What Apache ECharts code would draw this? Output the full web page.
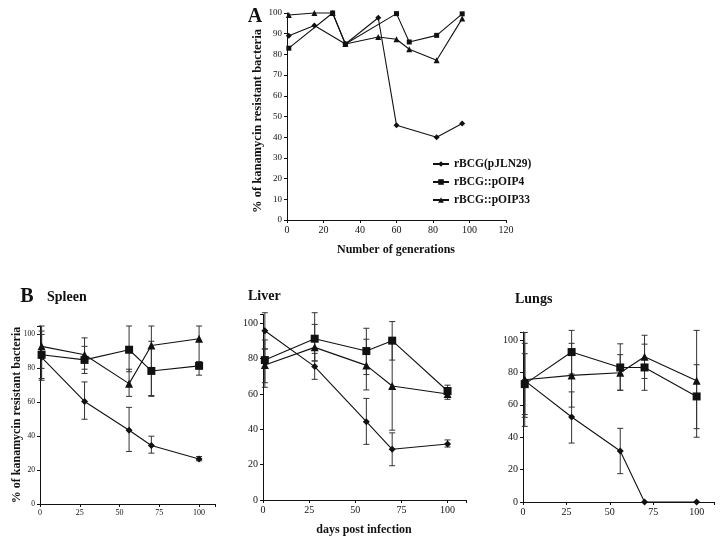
<!DOCTYPE html>
<html><head><meta charset="utf-8">
<script src="https://cdn.jsdelivr.net/npm/echarts@6/dist/echarts.min.js"></script>
<style>html,body{margin:0;padding:0;background:#fff}#c{width:722px;height:544px}</style>
</head><body><div id="c"></div>
<script>
// ---------- data ----------
const seriesNames = ['rBCG(pJLN29)', 'rBCG::pOIP4', 'rBCG::pOIP33'];
// Panel A: % kanamycin resistant vs number of generations
const genJLN29 = [1, 15, 32, 50, 60, 82, 96];
const pctJLN29 = [89, 94, 85, 97.7, 45.8, 40, 46.6];
const genOIP4 = [1, 25, 32, 60, 67, 82, 96];
const pctOIP4 = [83, 100, 85, 99.7, 86, 89.2, 99.6];
const genOIP33 = [1, 15, 25, 32, 50, 60, 67, 82, 96];
const pctOIP33 = [99, 100, 100, 85, 88.4, 87.3, 82.5, 77.2, 97.3];
const ticksAX = [0, 20, 40, 60, 80, 100, 120];
const ticksAY = [0, 10, 20, 30, 40, 50, 60, 70, 80, 90, 100];

// Panel B: days post infection
const days = [1, 28, 56, 70, 100];
const ticksBX = [0, 25, 50, 75, 100];
const ticksBY = [0, 20, 40, 60, 80, 100];

const spleenJLN29 = [86.5, 60.5, 43.5, 34.5, 26.5];
const spleenJLN29Lo = [73, 50, 31, 30, 25.5];
const spleenJLN29Hi = [100, 72, 57, 40, 28];
const spleenOIP4 = [88, 85, 91, 78.5, 81.5];
const spleenOIP4Lo = [74, 77, 78, 64, 76];
const spleenOIP4Hi = [102, 93, 105, 96, 84];
const spleenOIP33 = [93, 88, 71, 93.5, 97.5];
const spleenOIP33Lo = [80, 79.5, 63.5, 63.5, 82];
const spleenOIP33Hi = [105, 98, 79.5, 105, 105];

const liverJLN29 = [95.8, 75.5, 44.3, 28.7, 31.7];
const liverJLN29Lo = [85.5, 68.3, 31.5, 19.4, 30];
const liverJLN29Hi = [106, 83, 57.5, 38, 34];
const liverOIP4 = [79.2, 91.3, 84.3, 90.2, 61.7];
const liverOIP4Lo = [63.8, 78.7, 71, 79.2, 58];
const liverOIP4Hi = [90.6, 106, 97.2, 101, 65];
const liverOIP33 = [76.4, 86.4, 76.2, 64.5, 60];
const liverOIP33Lo = [66.4, 78.7, 62.3, 39.5, 57];
const liverOIP33Hi = [85.5, 99.4, 91, 89, 63];

const lungsJLN29 = [75, 52.5, 31.5, 0, 0];
const lungsJLN29Lo = [52.3, 36.4, 17.5, null, null];
const lungsJLN29Hi = [98, 68, 45.5, null, null];
const lungsOIP4 = [72.8, 92.6, 83.1, 83.1, 65.2];
const lungsOIP4Lo = [46.7, 79, 69, 69, 40];
const lungsOIP4Hi = [104.7, 106, 97.7, 97.5, 84.8];
const lungsOIP33 = [75.5, 78.2, 79.8, 89.7, 74.9];
const lungsOIP33Lo = [54, 58.6, 69, 76.3, 45.3];
const lungsOIP33Hi = [91.6, 98, 91, 103, 106];

// ---------- helpers ----------
const FONT = "'Liberation Serif', 'Times New Roman', serif";
const INK = '#111';
const symbols = ['diamond', 'rect', 'triangle'];

function pairs(xs, ys) { return xs.map((x, i) => [x, ys[i]]); }

function xAxis(gi, max, interval, ticks, fs) {
  return {
    type: 'value', gridIndex: gi, min: 0, max: max, interval: interval,
    axisLine: { lineStyle: { color: INK, width: 1 } },
    axisTick: { show: true, length: 3, lineStyle: { color: INK } },
    axisLabel: { color: INK, fontFamily: FONT, fontSize: fs, margin: 5,
      formatter: v => ticks.indexOf(v) >= 0 ? String(v) : '' },
    splitLine: { show: false }
  };
}
function yAxis(gi, max, interval, ticks, fs) {
  return {
    type: 'value', gridIndex: gi, min: 0, max: max, interval: interval,
    axisLine: { show: true, lineStyle: { color: INK, width: 1 } },
    axisTick: { show: true, length: 3, lineStyle: { color: INK } },
    axisLabel: { color: INK, fontFamily: FONT, fontSize: fs, margin: 5,
      formatter: v => ticks.indexOf(v) >= 0 ? String(v) : '' },
    splitLine: { show: false }
  };
}
function lineSeries(name, gi, data, k, size) {
  return {
    name: name, type: 'line', xAxisIndex: gi, yAxisIndex: gi, data: data,
    symbol: symbols[k], symbolSize: size, showSymbol: true,
    lineStyle: { color: INK, width: 1.1 }, itemStyle: { color: INK },
    animation: false, z: 3, clip: false
  };
}
function errRender(params, api) {
  const x = api.value(0), lo = api.value(1), hi = api.value(2);
  const p1 = api.coord([x, lo]), p2 = api.coord([x, hi]);
  const w = 3;
  const st = { stroke: '#333', lineWidth: 1 };
  return { type: 'group', children: [
    { type: 'line', shape: { x1: p1[0], y1: p1[1], x2: p2[0], y2: p2[1] }, style: st },
    { type: 'line', shape: { x1: p1[0] - w, y1: p1[1], x2: p1[0] + w, y2: p1[1] }, style: st },
    { type: 'line', shape: { x1: p2[0] - w, y1: p2[1], x2: p2[0] + w, y2: p2[1] }, style: st }
  ] };
}
function errSeries(gi, lo, hi) {
  const data = [];
  days.forEach((d, i) => { if (lo[i] != null) data.push([d, lo[i], hi[i]]); });
  return { type: 'custom', xAxisIndex: gi, yAxisIndex: gi, data: data,
    renderItem: errRender, encode: { x: 0, y: [1, 2] }, z: 2, animation: false, silent: true };
}

const panels = [
  { gi: 1, tag: 'spleen', ys: [spleenJLN29, spleenOIP4, spleenOIP33],
    lo: [spleenJLN29Lo, spleenOIP4Lo, spleenOIP33Lo], hi: [spleenJLN29Hi, spleenOIP4Hi, spleenOIP33Hi] },
  { gi: 2, tag: 'liver', ys: [liverJLN29, liverOIP4, liverOIP33],
    lo: [liverJLN29Lo, liverOIP4Lo, liverOIP33Lo], hi: [liverJLN29Hi, liverOIP4Hi, liverOIP33Hi] },
  { gi: 3, tag: 'lungs', ys: [lungsJLN29, lungsOIP4, lungsOIP33],
    lo: [lungsJLN29Lo, lungsOIP4Lo, lungsOIP33Lo], hi: [lungsJLN29Hi, lungsOIP4Hi, lungsOIP33Hi] }
];

const series = [
  lineSeries(seriesNames[0], 0, pairs(genJLN29, pctJLN29), 0, 6),
  lineSeries(seriesNames[1], 0, pairs(genOIP4, pctOIP4), 1, 5),
  lineSeries(seriesNames[2], 0, pairs(genOIP33, pctOIP33), 2, 6)
];
const bSizes = [7, 8, 8];
panels.forEach(p => {
  for (let k = 0; k < 3; k++) {
    series.push(errSeries(p.gi, p.lo[k], p.hi[k]));
    series.push(lineSeries(p.tag + '-' + k, p.gi, pairs(days, p.ys[k]), k, bSizes[k]));
  }
});

function txt(x, y, text, size, rot, align) {
  return { type: 'text', x: x, y: y, rotation: rot || 0,
    style: { text: text, x: 0, y: 0, fill: INK, textAlign: align || 'center', textVerticalAlign: 'middle',
      font: 'bold ' + size + 'px ' + FONT } };
}

const option = {
  backgroundColor: '#fff',
  animation: false,
  grid: [
    { left: 287, top: 13, width: 219, height: 207 },
    { left: 40, top: 326, width: 175, height: 178 },
    { left: 263, top: 314.5, width: 203, height: 185.5 },
    { left: 523, top: 332, width: 191, height: 170 }
  ],
  xAxis: [
    xAxis(0, 120, 20, ticksAX, 10),
    xAxis(1, 110, 25, ticksBX, 8),
    xAxis(2, 110, 25, ticksBX, 10),
    xAxis(3, 110, 25, ticksBX, 10)
  ],
  yAxis: [
    yAxis(0, 100, 10, ticksAY, 9),
    yAxis(1, 105, 20, ticksBY, 7.5),
    yAxis(2, 105, 20, ticksBY, 10),
    yAxis(3, 105, 20, ticksBY, 10)
  ],
  legend: {
    data: seriesNames, orient: 'vertical', left: 427, top: 153,
    itemWidth: 16, itemHeight: 7, itemGap: 6,
    textStyle: { fontFamily: FONT, fontWeight: 'bold', fontSize: 11.5, color: INK }
  },
  graphic: [
    txt(255, 17, 'A', 20),
    txt(258, 121, '% of kanamycin resistant bacteria', 12.5, Math.PI / 2),
    txt(396, 250, 'Number of generations', 12),
    txt(27, 297, 'B', 20),
    txt(47, 297.5, 'Spleen', 14, 0, 'left'),
    txt(248, 296, 'Liver', 14, 0, 'left'),
    txt(515, 299, 'Lungs', 14, 0, 'left'),
    txt(17, 415, '% of kanamycin resistant bacteria', 12, Math.PI / 2),
    txt(364, 530, 'days post infection', 12)
  ],
  series: series
};

const chart = echarts.init(document.getElementById('c'), null, { renderer: 'canvas' });
chart.setOption(option);
</script>
</body></html>
